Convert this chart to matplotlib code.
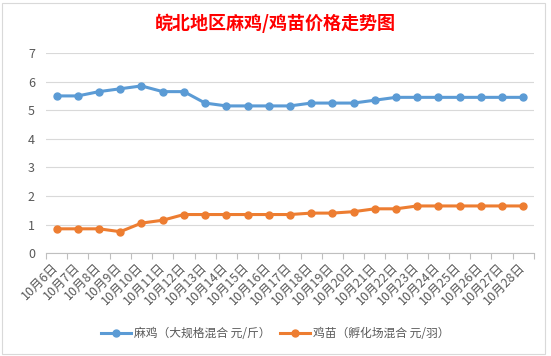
import matplotlib
matplotlib.use("Agg")
import matplotlib.pyplot as plt
from matplotlib.patches import Rectangle

plt.rcParams['font.family'] = ['Noto Sans CJK SC', 'DejaVu Sans']

dates = ["10月6日", "10月7日", "10月8日", "10月9日", "10月10日", "10月11日", "10月12日",
         "10月13日", "10月14日", "10月15日", "10月16日", "10月17日", "10月18日", "10月19日",
         "10月20日", "10月21日", "10月22日", "10月23日", "10月24日", "10月25日", "10月26日",
         "10月27日", "10月28日"]
maji = [5.5, 5.5, 5.65, 5.75, 5.85, 5.65, 5.65, 5.25, 5.15, 5.15, 5.15, 5.15,
        5.25, 5.25, 5.25, 5.35, 5.45, 5.45, 5.45, 5.45, 5.45, 5.45, 5.45]
jimiao = [0.85, 0.85, 0.85, 0.75, 1.05, 1.15, 1.35, 1.35, 1.35, 1.35, 1.35, 1.35,
          1.4, 1.4, 1.45, 1.55, 1.55, 1.65, 1.65, 1.65, 1.65, 1.65, 1.65]
label_maji = "麻鸡（大规格混合 元/斤）"
label_jimiao = "鸡苗（孵化场混合 元/羽）"
title = "皖北地区麻鸡/鸡苗价格走势图"

fig = plt.figure(figsize=(5.51, 3.56), dpi=100)
fig.patch.set_facecolor('white')
fig.patches.append(Rectangle((0.004, 0.006), 0.985, 0.985, transform=fig.transFigure,
                             fill=False, edgecolor='#D9D9D9', linewidth=0.8))

ax = fig.add_axes([0.0835, 0.289, 0.8855, 0.562])
x = list(range(len(dates)))
ax.plot(x, maji, color='#5B9BD5', linewidth=2.2, marker='o', markersize=5, label=label_maji)
ax.plot(x, jimiao, color='#ED7D31', linewidth=2.2, marker='o', markersize=5, label=label_jimiao)

ax.set_ylim(0, 7)
ax.set_yticks(range(0, 8))
ax.set_xlim(-0.5, len(dates) - 0.5)
ax.set_xticks(x)
ax.set_xticklabels(dates, rotation=45, ha='right', va='center', rotation_mode='anchor',
                   fontsize=9, color='#595959')
ax.set_xticks([i - 0.5 for i in range(len(dates) + 1)], minor=True)
ax.tick_params(axis='x', which='major', length=0, pad=9)
ax.tick_params(axis='x', which='minor', length=4, color='#BFBFBF', width=0.8)
ax.tick_params(axis='y', length=0, labelsize=9, labelcolor='#595959', pad=8)
ax.grid(axis='y', color='#D9D9D9', linewidth=0.8)
ax.set_axisbelow(True)
for s in ['top', 'right', 'left']:
    ax.spines[s].set_visible(False)
ax.spines['bottom'].set_color('#BFBFBF')
ax.spines['bottom'].set_linewidth(0.8)

fig.text(0.5, 0.935, title, ha='center', va='center', fontsize=13, fontweight='bold', color='#FF0000')

fig.legend(loc='center', bbox_to_anchor=(0.5, 0.062), ncol=2, frameon=False,
           fontsize=8.5, handlelength=2.5, columnspacing=0.8, handletextpad=0.3,
           labelcolor='#595959')

fig.savefig('out.png', dpi=100, facecolor='white')
